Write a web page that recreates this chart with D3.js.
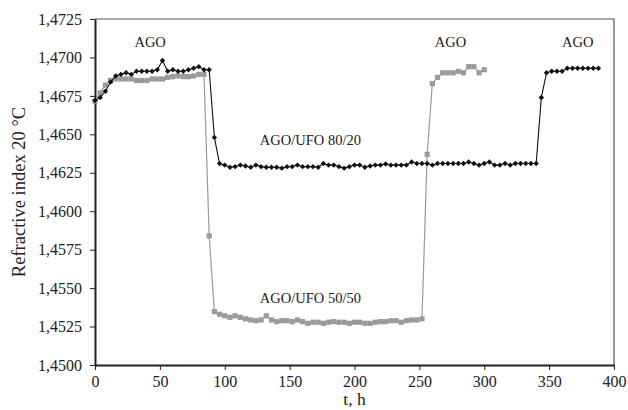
<!DOCTYPE html>
<html>
<head>
<meta charset="utf-8">
<script src="https://cdn.jsdelivr.net/npm/d3@7"></script>
<style>
body { margin: 0; background: #fff; }
text { font-family: "Liberation Serif", "DejaVu Serif", serif; fill: #222; }
</style>
</head>
<body>
<div id="chart"></div>
<script>
// AGO/UFO 80/20 (black, diamonds)
var blackT = [0,4,8,12,16,20,24,28,32,36,40,44,48,52,56,60,64,68,72,76,80,84,88,92,96,
  100,104,108,112,116,120,124,128,132,136,140,144,148,152,156,160,164,168,172,176,180,184,188,192,196,
  200,204,208,212,216,220,224,228,232,236,240,244,248,252,256,260,264,268,272,276,280,284,288,292,296,
  300,304,308,312,316,320,324,328,332,336,340,344,348,352,356,360,364,368,372,376,380,384,388];
var blackV = [1.4672,1.4674,1.4678,1.4684,1.4688,1.4689,1.4690,1.4689,1.4691,1.4691,1.4691,1.4691,1.4692,1.4698,1.4691,1.4692,1.4691,1.4691,1.4692,1.4693,1.4694,1.4692,1.4692,1.4648,1.4631,
  1.4630,1.46286,1.4629,1.4630,1.46294,1.46286,1.4630,1.4629,1.46286,1.46286,1.46286,1.4628,1.4629,1.4629,1.4630,1.4629,1.4629,1.4629,1.46286,1.4631,1.4630,1.4630,1.4629,1.4628,1.4629,
  1.4630,1.4630,1.46286,1.46294,1.4630,1.4630,1.46307,1.4630,1.4630,1.4630,1.4630,1.4632,1.4631,1.4631,1.4631,1.4630,1.4631,1.4631,1.4631,1.4631,1.4631,1.4631,1.4632,1.4631,1.4630,
  1.4631,1.4632,1.4630,1.4630,1.4631,1.4630,1.4631,1.4631,1.4631,1.4631,1.4631,1.4674,1.4690,1.4691,1.4691,1.4691,1.4693,1.4693,1.4693,1.4693,1.4693,1.4693,1.4693];

// AGO/UFO 50/50 (grey, squares)
var greyT = [0,4,8,12,16,20,24,28,32,36,40,44,48,52,56,60,64,68,72,76,80,84,88,92,96,
  100,104,108,112,116,120,124,128,132,136,140,144,148,152,156,160,164,168,172,176,180,184,188,192,196,
  200,204,208,212,216,220,224,228,232,236,240,244,248,252,256,260,264,268,272,276,280,284,288,292,296,300];
var greyV = [1.46715,1.4677,1.4682,1.4685,1.4686,1.4686,1.4686,1.4686,1.4685,1.4685,1.4685,1.4686,1.4686,1.4686,1.4687,1.46875,1.4688,1.46875,1.46875,1.4688,1.4689,1.4689,1.4584,1.45347,1.4533,
  1.4532,1.4531,1.4532,1.4531,1.4530,1.45293,1.45288,1.45293,1.4532,1.45293,1.45282,1.45288,1.45288,1.45282,1.45293,1.45282,1.45271,1.45278,1.45278,1.45271,1.45278,1.45282,1.45278,1.45278,1.45271,
  1.45278,1.45278,1.45271,1.45271,1.45278,1.45282,1.45282,1.45288,1.45288,1.45278,1.45288,1.45293,1.45293,1.4530,1.4637,1.4683,1.4687,1.4690,1.4690,1.4690,1.4691,1.4690,1.4694,1.4694,1.4690,1.4692];

var xTicks = [0,50,100,150,200,250,300,350,400];
var yTicks = [1.4500,1.4525,1.4550,1.4575,1.4600,1.4625,1.4650,1.4675,1.4700,1.4725];

var labels = [
  {text: "AGO", t: 42.5, v: 1.47065},
  {text: "AGO", t: 274, v: 1.47065},
  {text: "AGO", t: 372, v: 1.47065},
  {text: "AGO/UFO 80/20", t: 166, v: 1.46431},
  {text: "AGO/UFO 50/50", t: 166, v: 1.45405}
];

var width = 628, height = 410;
var padL = 95, padR = 614, padT = 19, padB = 365;

var svg = d3.select("#chart").append("svg")
  .attr("width", width)
  .attr("height", height);

var x = d3.scaleLinear().domain([0, 400]).range([padL, padR]);
var y = d3.scaleLinear().domain([1.45, 1.4725]).range([padB, padT]);

// plot frame (top/right)
svg.append("path")
  .attr("d", "M" + padL + "," + padT + "H" + padR + "V" + padB)
  .attr("fill", "none")
  .attr("stroke", "#555")
  .attr("stroke-width", 1.2);

var fmt = function(d) { return d3.format(".4f")(d).replace(".", ","); };

var xAxis = svg.append("g")
  .attr("transform", "translate(0," + padB + ")")
  .call(d3.axisBottom(x).tickValues(xTicks).tickSize(5).tickSizeOuter(0).tickPadding(6));
var yAxis = svg.append("g")
  .attr("transform", "translate(" + padL + ",0)")
  .call(d3.axisLeft(y).tickValues(yTicks).tickFormat(fmt).tickSize(5).tickSizeOuter(0).tickPadding(8));

[xAxis, yAxis].forEach(function(g) {
  g.select(".domain").attr("stroke", "#222").attr("stroke-width", 2);
  g.selectAll(".tick line").attr("stroke", "#222");
  g.selectAll("text").attr("font-size", 16).attr("font-family", "Liberation Serif").attr("fill", "#222");
});

svg.append("text")
  .attr("x", (padL + padR) / 2)
  .attr("y", 405)
  .attr("text-anchor", "middle")
  .attr("font-size", 17.5)
  .text("t, h");

svg.append("text")
  .attr("transform", "translate(25," + (padT + padB) / 2 + ")rotate(-90)")
  .attr("text-anchor", "middle")
  .attr("font-size", 18.5)
  .text("Refractive index 20 °C");

var line = d3.line()
  .x(function(d) { return x(d[0]); })
  .y(function(d) { return y(d[1]); });

var grey = d3.zip(greyT, greyV);
var black = d3.zip(blackT, blackV);

svg.append("path")
  .datum(grey)
  .attr("d", line)
  .attr("fill", "none")
  .attr("stroke", "#9a9a9a")
  .attr("stroke-width", 1.2);

svg.selectAll(".sq").data(grey).enter().append("rect")
  .attr("class", "sq")
  .attr("x", function(d) { return x(d[0]) - 2.6; })
  .attr("y", function(d) { return y(d[1]) - 2.6; })
  .attr("width", 5.2)
  .attr("height", 5.2)
  .attr("fill", "#9a9a9a");

svg.append("path")
  .datum(black)
  .attr("d", line)
  .attr("fill", "none")
  .attr("stroke", "#111")
  .attr("stroke-width", 1.1);

svg.selectAll(".dm").data(black).enter().append("path")
  .attr("class", "dm")
  .attr("transform", function(d) { return "translate(" + x(d[0]) + "," + y(d[1]) + ")"; })
  .attr("d", "M0,-2.7L2.7,0L0,2.7L-2.7,0Z")
  .attr("fill", "#111");

svg.selectAll(".lbl").data(labels).enter().append("text")
  .attr("class", "lbl")
  .attr("x", function(d) { return x(d.t); })
  .attr("y", function(d) { return y(d.v); })
  .attr("text-anchor", "middle")
  .attr("font-size", 14.5)
  .text(function(d) { return d.text; });
</script>
</body>
</html>
